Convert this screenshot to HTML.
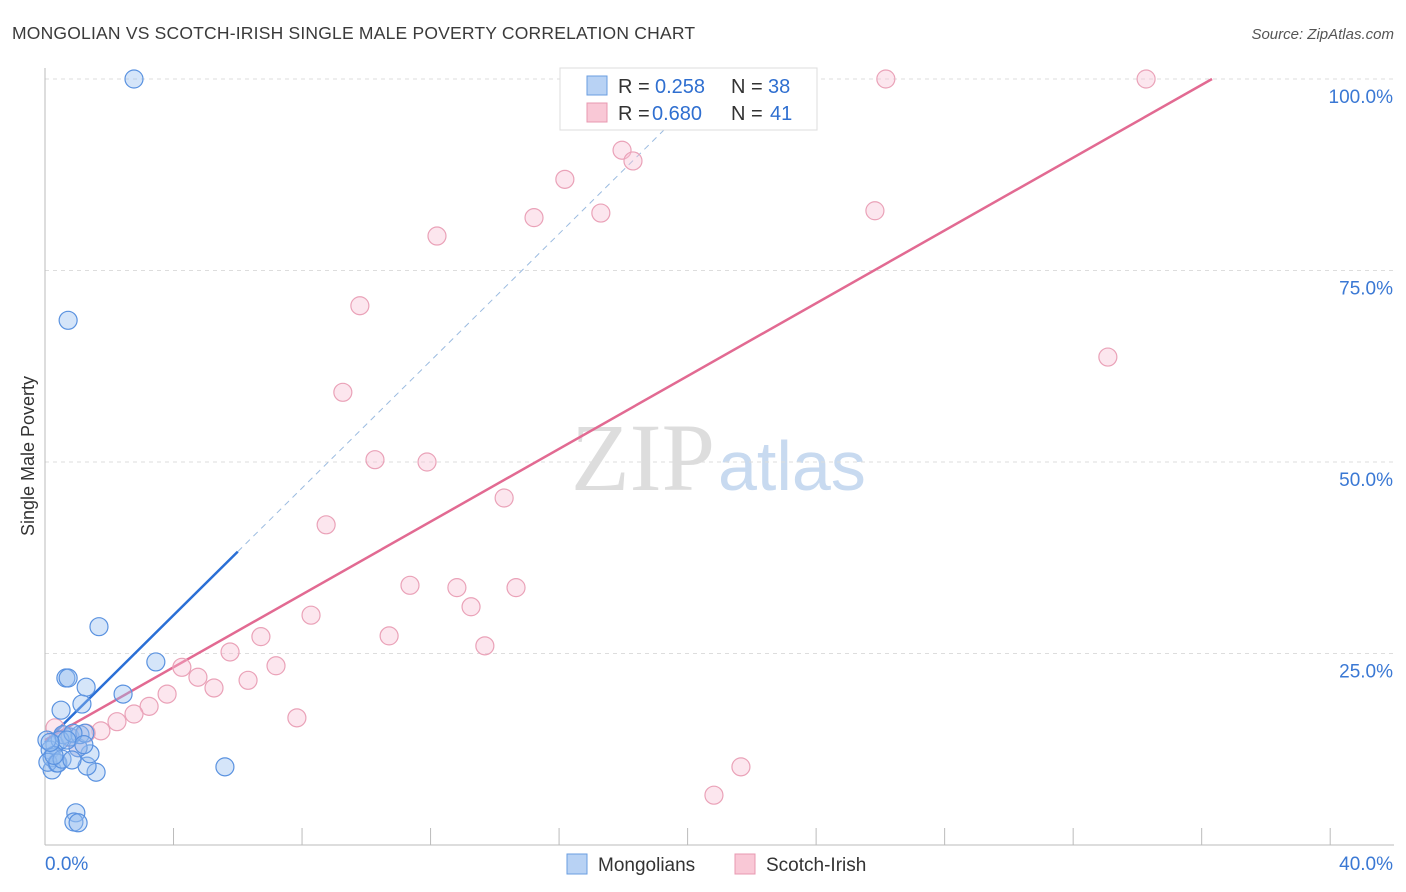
<!DOCTYPE html>
<html><head><meta charset="utf-8">
<style>
body{margin:0;background:#fff;font-family:"Liberation Sans",sans-serif;}
svg{display:block}
</style></head>
<body>
<svg id="chart" width="1406" height="892" xmlns="http://www.w3.org/2000/svg">
<text x="12" y="39" font-size="17.5" fill="#3a3a3a" letter-spacing="0.2">MONGOLIAN VS SCOTCH-IRISH SINGLE MALE POVERTY CORRELATION CHART</text>
<text x="1394" y="39" font-size="15" fill="#555" font-style="italic" text-anchor="end">Source: ZipAtlas.com</text>
<text x="34" y="456" font-size="18" fill="#333" text-anchor="middle" transform="rotate(-90 34 456)">Single Male Poverty</text>
<text x="715" y="490" font-size="96" fill="#ddd" text-anchor="end" font-family="Liberation Serif">ZIP</text>
<text x="718" y="490" font-size="70" fill="#c8daf0">atlas</text>
<g id="grid"></g><g id="axes"></g><g id="lines"></g><g id="pts"></g>
<g>
<rect x="560" y="68" width="257" height="62" fill="#fff" stroke="#ddd"/>
<rect x="587" y="76" width="20" height="19" fill="#b8d2f4" stroke="#6a9ee0"/>
<text x="618" y="93" font-size="20" fill="#333">R = </text>
<text x="655" y="93" font-size="20" fill="#2f6fd0">0.258</text>
<text x="731" y="93" font-size="20" fill="#333">N = </text>
<text x="768" y="93" font-size="20" fill="#2f6fd0">38</text>
<rect x="587" y="103" width="20" height="19" fill="#f9c8d6" stroke="#e898b0"/>
<text x="618" y="120" font-size="20" fill="#333">R = </text>
<text x="652" y="120" font-size="20" fill="#2f6fd0">0.680</text>
<text x="731" y="120" font-size="20" fill="#333">N = </text>
<text x="770" y="120" font-size="20" fill="#2f6fd0">41</text>
</g>
<g>
<rect x="567" y="854" width="20" height="20" fill="#b8d2f4" stroke="#6a9ee0"/>
<text x="598" y="871" font-size="19" fill="#333">Mongolians</text>
<rect x="735" y="854" width="20" height="20" fill="#f9c8d6" stroke="#e898b0"/>
<text x="766" y="871" font-size="19" fill="#333">Scotch-Irish</text>
</g>
</svg>
<script>
const blueX=[2.77,0.72,1.68,3.45,0.65,0.72,1.28,2.43,1.15,0.5,5.6,1.59,1.31,0.22,1.4,1.03,0.31,0.78,0.56,1.09,1.24,0.16,0.22,0.37,0.09,0.47,0.87,0.68,0.96,0.9,1.03,0.4,0.53,0.28,0.06,0.16,1.21,0.84];
const blueY=[100,68.5,28.5,23.9,21.8,21.8,20.6,19.7,18.4,17.6,10.2,9.5,10.3,9.8,11.9,12.7,13.1,14.1,14.4,14.4,14.6,12.4,11.4,10.7,10.8,13.7,14.6,13.7,4.2,3.0,2.9,10.7,11.2,11.7,13.7,13.4,13.1,11.1];
const pinkX=[26.17,34.27,17.96,18.3,16.18,15.22,17.3,25.83,12.2,9.8,33.08,9.27,10.27,11.89,14.29,8.75,11.36,12.82,14.66,13.26,8.28,10.71,6.72,5.76,13.69,7.19,4.26,4.76,6.32,5.26,3.8,3.24,2.77,7.84,2.24,1.74,1.28,0.31,0.78,1.03,21.66,20.82];
const pinkY=[100,100,90.7,89.3,86.9,81.9,82.5,82.8,79.5,70.4,63.7,59.1,50.3,50.0,45.3,41.8,33.9,33.6,33.6,31.1,30.0,27.3,27.2,25.2,26.0,23.4,23.2,21.9,21.5,20.5,19.7,18.1,17.1,16.6,16.1,14.9,14.6,15.3,14.0,12.7,10.2,6.5];
const yTicks=[25,50,75,100];
const yTickLabels=["25.0%","50.0%","75.0%","100.0%"];
const blueTrend=[13.4,4.15];
const pinkTrend=[13.7,2.376];
const NS="http://www.w3.org/2000/svg";
const sx=v=>45+v*32.13, sy=v=>845-v*7.66;
function mk(tag,attrs,parent){const e=document.createElementNS(NS,tag);for(const k in attrs)e.setAttribute(k,attrs[k]);document.getElementById(parent).appendChild(e);return e;}
yTicks.forEach((t,i)=>{
 const g=mk('line',{x1:45,x2:1394,y1:sy(t),y2:sy(t),stroke:'#ddd','stroke-dasharray':'4,4'},'grid');
 
 
 const l=mk('text',{x:1393,y:sy(t)+24,'font-size':19,fill:'#3a78d4','text-anchor':'end'},'axes');
 l.textContent=yTickLabels[i];
 
 
});
const ax=mk('line',{x1:45,x2:45,y1:68,y2:845,stroke:'#bbb'},'axes');


const bx=mk('line',{x1:45,x2:1394,y1:845,y2:845,stroke:'#bbb'},'axes');


for(let i=1;i<=10;i++){const t=mk('line',{x1:sx(i*4),x2:sx(i*4),y1:828,y2:845,stroke:'#bbb'},'axes');
 
 }
const x0=mk('text',{x:45,y:870,'font-size':19,fill:'#3a78d4'},'axes');x0.textContent='0.0%';


const x1=mk('text',{x:1393,y:870,'font-size':19,fill:'#3a78d4','text-anchor':'end'},'axes');x1.textContent='40.0%';


const bEnd=6, bDash=(100-blueTrend[0])/blueTrend[1]*0.965;
const b1=mk('line',{x1:sx(0),y1:sy(blueTrend[0]),x2:sx(bEnd),y2:sy(blueTrend[0]+blueTrend[1]*bEnd),stroke:'#2a6fd6','stroke-width':2.5},'lines');


const b2=mk('line',{x1:sx(bEnd),y1:sy(blueTrend[0]+blueTrend[1]*bEnd),x2:sx(bDash),y2:sy(blueTrend[0]+blueTrend[1]*bDash),stroke:'#9bbbe0','stroke-width':1,'stroke-dasharray':'6,5'},'lines');


const pEnd=(100-pinkTrend[0])/pinkTrend[1];
const p1=mk('line',{x1:sx(0),y1:sy(pinkTrend[0]),x2:sx(pEnd),y2:sy(100),stroke:'#e26a92','stroke-width':2.5},'lines');


pinkX.forEach((x,i)=>{const c=mk('circle',{cx:sx(x),cy:sy(pinkY[i]),r:9,fill:'rgba(248,190,210,0.38)',stroke:'#eaa2b8','stroke-width':1.2},'pts');
 
 });
blueX.forEach((x,i)=>{const c=mk('circle',{cx:sx(x),cy:sy(blueY[i]),r:9,fill:'rgba(150,190,240,0.4)',stroke:'#5a92e0','stroke-width':1.2},'pts');
 
 });
</script>
</body></html>
